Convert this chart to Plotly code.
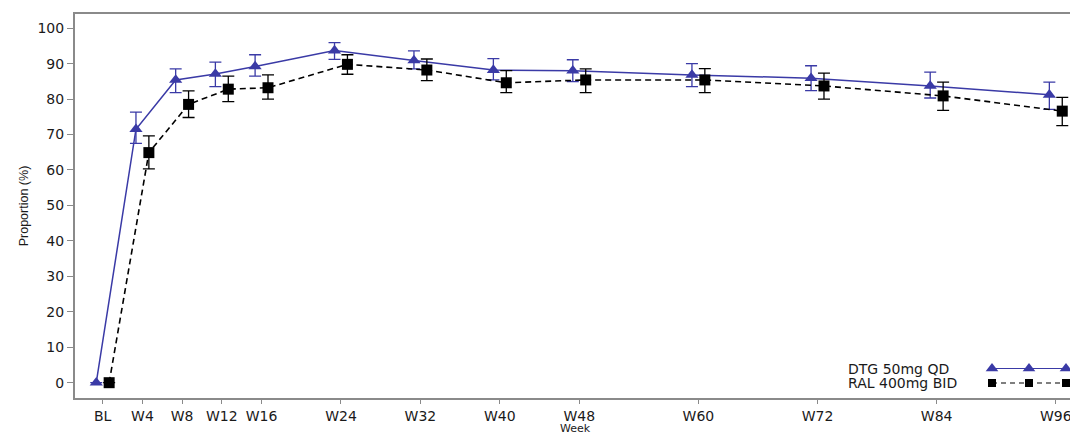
import plotly.graph_objects as go

# ---- data ----
weeks = [0, 4, 8, 12, 16, 24, 32, 40, 48, 60, 72, 84, 96]
week_labels = ["BL", "W4", "W8", "W12", "W16", "W24", "W32", "W40", "W48", "W60", "W72", "W84", "W96"]

dtg = [0, 71.5, 85.4, 87.1, 89.2, 93.7, 90.9, 88.2, 88.0, 86.8, 85.9, 83.7, 81.2]
dtg_hi = [0, 76.3, 88.5, 90.4, 92.5, 95.9, 93.6, 91.4, 91.1, 90.0, 89.4, 87.6, 84.8]
dtg_lo = [0, 67.5, 81.8, 83.5, 86.5, 91.2, 88.5, 85.4, 84.9, 83.5, 82.4, 80.3, 77.1]

ral = [0, 64.9, 78.5, 82.8, 83.2, 89.8, 88.2, 84.6, 85.4, 85.4, 83.7, 80.9, 76.6]
ral_hi = [0, 69.6, 82.3, 86.5, 86.8, 92.5, 91.3, 88.0, 88.5, 88.6, 87.3, 84.8, 80.5]
ral_lo = [0, 60.3, 74.8, 79.3, 80.0, 87.0, 85.2, 81.8, 81.8, 81.8, 80.0, 76.8, 72.5]

y_ticks = list(range(0, 101, 10))
series_names = ["DTG 50mg QD", "RAL 400mg BID"]
x_title = "Week"
y_title = "Proportion (%)"

# ---- styling ----
DODGE = 0.65
BLUE = "#3a3aa6"
BLACK = "#000000"
AXIS_GREY = "#8a8a8a"
FONT = "DejaVu Sans"
TEXT = "#1a1a1a"

fig = go.Figure()

fig.add_trace(go.Scatter(
    x=[w - DODGE for w in weeks], y=dtg, name=series_names[0],
    mode="lines+markers",
    line=dict(color=BLUE, width=1.5),
    marker=dict(symbol="triangle-up", size=11.5, color=BLUE),
    error_y=dict(type="data", symmetric=False,
                 array=[h - v for h, v in zip(dtg_hi, dtg)],
                 arrayminus=[v - l for v, l in zip(dtg, dtg_lo)],
                 color=BLUE, thickness=1.3, width=6),
    showlegend=False,
))

fig.add_trace(go.Scatter(
    x=[w + DODGE for w in weeks], y=ral, name=series_names[1],
    mode="lines+markers",
    line=dict(color=BLACK, width=1.6, dash="6px,4px"),
    marker=dict(symbol="square", size=11, color=BLACK),
    error_y=dict(type="data", symmetric=False,
                 array=[h - v for h, v in zip(ral_hi, ral)],
                 arrayminus=[v - l for v, l in zip(ral, ral_lo)],
                 color=BLACK, thickness=1.3, width=6),
    showlegend=False,
))

# ---- custom legend (text left, repeated key symbols right), in pixel-space overlay axes ----
KEY_X = [992, 1029, 1066]
KEY_Y = [368.5, 383]
TEXT_X = 846
fig.add_trace(go.Scatter(
    x=KEY_X, y=[KEY_Y[0]] * 3, xaxis="x2", yaxis="y2", mode="lines+markers",
    line=dict(color=BLUE, width=1.2),
    marker=dict(symbol="triangle-up", size=11, color=BLUE),
    showlegend=False, hoverinfo="skip",
))
fig.add_trace(go.Scatter(
    x=KEY_X, y=[KEY_Y[1]] * 3, xaxis="x2", yaxis="y2", mode="lines+markers",
    line=dict(color=BLACK, width=1.2, dash="5px,4px"),
    marker=dict(symbol="square", size=8, color=BLACK),
    showlegend=False, hoverinfo="skip",
))
for name, ky in zip(series_names, KEY_Y):
    fig.add_annotation(x=TEXT_X, y=ky, xref="x2", yref="y2", text=name,
                       showarrow=False, xanchor="left", yanchor="middle",
                       font=dict(family=FONT, size=14, color=TEXT))

# x-axis title placed just below the tick labels
fig.add_annotation(x=0.5035, y=0, xref="paper", yref="paper", yshift=-30.5,
                   text=x_title, showarrow=False, xanchor="center", yanchor="middle",
                   font=dict(family=FONT, size=11, color=TEXT))

fig.update_layout(
    width=1070, height=436,
    margin=dict(l=75, r=0, t=14, b=38),
    paper_bgcolor="white", plot_bgcolor="white",
    font=dict(family=FONT, size=14, color=TEXT),
    xaxis=dict(
        range=[-2.79, 97.43], automargin=False,
        tickvals=weeks, ticktext=week_labels, ticklabeloverflow="allow",
        showline=True, linecolor=AXIS_GREY, linewidth=2, mirror=True,
        ticks="outside", ticklen=4, tickcolor=AXIS_GREY, tickwidth=1,
        showgrid=False, zeroline=False,
        tickfont=dict(family=FONT, size=14, color=TEXT),
    ),
    yaxis=dict(
        range=[-4.32, 104.0], automargin=False,
        tickvals=y_ticks,
        showline=True, linecolor=AXIS_GREY, linewidth=2,
        ticks="outside", ticklen=6, tickcolor=AXIS_GREY, tickwidth=1,
        showgrid=False, zeroline=False,
        tickfont=dict(family=FONT, size=14, color=TEXT),
        title=dict(text=y_title, standoff=6,
                   font=dict(family="Liberation Sans", size=12.5, color=TEXT)),
    ),
    xaxis2=dict(overlaying="x", range=[75, 1070], visible=False, fixedrange=True),
    yaxis2=dict(overlaying="y", range=[398, 14], visible=False, fixedrange=True),
)

fig.write_html("out.html")
